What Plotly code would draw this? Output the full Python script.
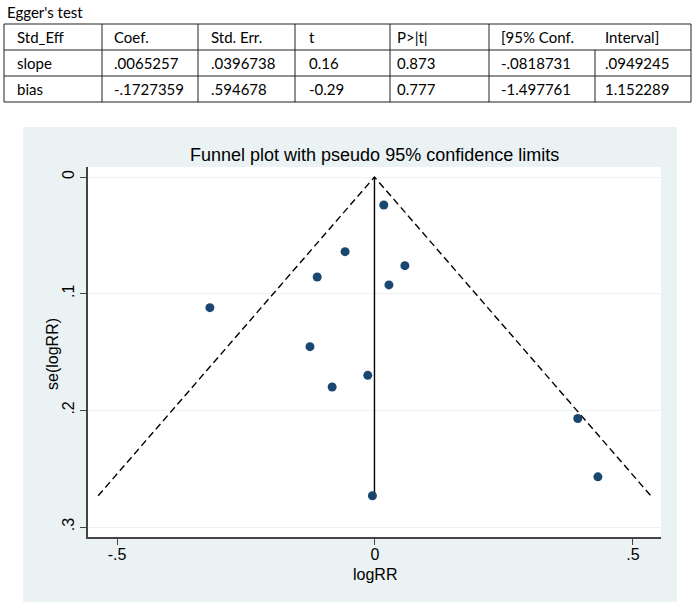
import plotly.graph_objects as go

# ---- data ----
log_rr = [0.017, -0.058, 0.058, -0.112, 0.027, -0.320, -0.126, -0.014, -0.083, 0.393, 0.432, -0.005]
se_log_rr = [0.024, 0.064, 0.076, 0.0857, 0.0925, 0.112, 0.1454, 0.170, 0.180, 0.207, 0.257, 0.2732]
pooled = -0.001

table_title = "Egger's test"
table_header = ["Std_Eff", "Coef.", "Std. Err.", "t", "P>|t|", "[95% Conf.", "Interval]"]
row_slope = ["slope", ".0065257", ".0396738", "0.16", "0.873", "-.0818731", ".0949245"]
row_bias = ["bias", "-.1727359", ".594678", "-0.29", "0.777", "-1.497761", "1.152289"]

x_tickvals = [-0.5, 0, 0.5]
x_ticktext = ["-.5", "0", ".5"]
y_tickvals = [0, 0.1, 0.2, 0.3]
y_ticktext = ["0", ".1", ".2", ".3"]

# ---- layout geometry (pixels) ----
W, H = 696, 607
PL, PR, PT, PB = 88, 661, 167, 537


def px(x):
    return (x - PL) / (PR - PL)


def py(y):
    return (PB - y) / (PB - PT)


se_max = max(se_log_rr)
fig = go.Figure()

# funnel limits
fig.add_trace(go.Scatter(x=[pooled - 1.96 * se_max, pooled, pooled + 1.96 * se_max],
                         y=[se_max, 0, se_max], mode="lines",
                         line=dict(color="black", width=1.4, dash="7px,4px"),
                         hoverinfo="skip", showlegend=False))
# pooled estimate
fig.add_trace(go.Scatter(x=[pooled, pooled], y=[0, se_max], mode="lines",
                         line=dict(color="black", width=1.4),
                         hoverinfo="skip", showlegend=False))
# studies
fig.add_trace(go.Scatter(x=log_rr, y=se_log_rr, mode="markers",
                         marker=dict(color="#1a476f", size=9),
                         showlegend=False))

shapes = []
# graph region
shapes.append(dict(type="rect", xref="paper", yref="paper", x0=px(23), x1=px(677), y0=py(602), y1=py(127),
                   fillcolor="#EAF2F3", line=dict(width=0), layer="below"))
shapes.append(dict(type="rect", xref="paper", yref="paper", x0=0, x1=1, y0=0, y1=1,
                   fillcolor="white", line=dict(width=0), layer="below"))

# table grid
col_edges = [4, 102, 198, 295, 390, 489, 595, 691]
row_edges = [24, 50, 76, 102]
lc = dict(color="#222222", width=1)
for ry in row_edges:
    shapes.append(dict(type="line", xref="paper", yref="paper", x0=px(col_edges[0]), x1=px(col_edges[-1]),
                       y0=py(ry), y1=py(ry), line=lc))
for i, cx in enumerate(col_edges):
    top = row_edges[1] if i == 6 else row_edges[0]
    shapes.append(dict(type="line", xref="paper", yref="paper", x0=px(cx), x1=px(cx),
                       y0=py(top), y1=py(row_edges[-1]), line=lc))

annotations = []
tfont = dict(family="Lato, Carlito, sans-serif", size=15, color="black")
annotations.append(dict(text=table_title, xref="paper", yref="paper", x=px(5), y=py(12),
                        xanchor="left", yanchor="middle", showarrow=False, font=tfont))
text_x = [15, 112, 209, 307, 395, 499, 603]
for r, row in enumerate([table_header, row_slope, row_bias]):
    cy = (row_edges[r] + row_edges[r + 1]) / 2
    for c, txt in enumerate(row):
        annotations.append(dict(text=txt, xref="paper", yref="paper", x=px(text_x[c]), y=py(cy),
                                xanchor="left", yanchor="middle", showarrow=False, font=tfont))

gfont = "Liberation Sans, Arial, sans-serif"
annotations.append(dict(text="Funnel plot with pseudo 95% confidence limits", xref="paper", yref="paper",
                        x=0.5, y=py(155), xanchor="center", yanchor="middle", showarrow=False,
                        font=dict(family=gfont, size=18, color="black")))
annotations.append(dict(text="logRR", xref="paper", yref="paper", x=px(375), y=py(574),
                        xanchor="center", yanchor="middle", showarrow=False,
                        font=dict(family=gfont, size=16, color="black")))
annotations.append(dict(text="se(logRR)", xref="paper", yref="paper", x=px(52), y=py(354),
                        xanchor="center", yanchor="middle", textangle=-90, showarrow=False,
                        font=dict(family=gfont, size=16, color="black")))

fig.update_layout(
    width=W, height=H,
    margin=dict(l=PL, r=W - PR, t=PT, b=H - PB, pad=0),
    paper_bgcolor="white", plot_bgcolor="rgba(0,0,0,0)",
    shapes=shapes, annotations=annotations,
    xaxis=dict(range=[-0.5562, 0.5543], tickvals=x_tickvals, ticktext=x_ticktext,
               showgrid=False, zeroline=False, showline=True, linecolor="#444444", linewidth=1.5,
               ticks="outside", ticklen=6, tickcolor="#444444", tickwidth=1,
               ticklabelstandoff=-4,
               tickfont=dict(family=gfont, size=16, color="black")),
    yaxis=dict(range=[0.30857, -0.00857], tickvals=y_tickvals, ticktext=y_ticktext,
               showgrid=True, gridcolor="#EAF2F3", gridwidth=1.2, zeroline=False,
               showline=True, linecolor="#444444", linewidth=1.5,
               ticks="outside", ticklen=6, tickcolor="#444444", tickwidth=1, tickangle=-90,
               tickfont=dict(family=gfont, size=16, color="black")),
)

fig.write_html("out.html", config={"displayModeBar": False},
               post_script="document.body.style.margin='0px';")
